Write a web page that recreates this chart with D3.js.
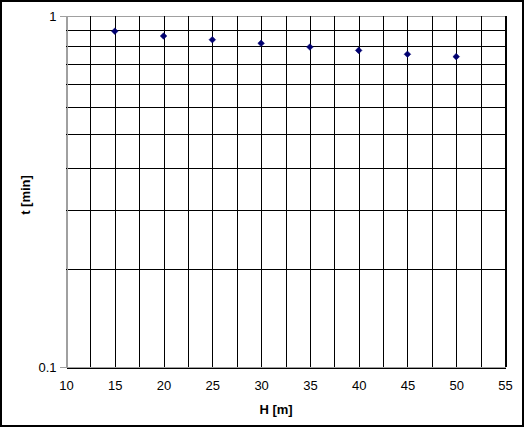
<!DOCTYPE html>
<html>
<head>
<meta charset="utf-8">
<script src="https://cdn.jsdelivr.net/npm/d3@7"></script>
<style>
  html, body { margin: 0; padding: 0; background: #fff; }
  svg { display: block; }
  text { font-family: "Liberation Sans", Arial, sans-serif; }
</style>
</head>
<body>
<script>
// ---- data ----
const heights = [15, 20, 25, 30, 35, 40, 45, 50];
const times = [0.905, 0.877, 0.856, 0.836, 0.816, 0.798, 0.778, 0.766];
const xTicks = [10, 15, 20, 25, 30, 35, 40, 45, 50, 55];
const xGrid = [12.5, 15, 17.5, 20, 22.5, 25, 27.5, 30, 32.5, 35, 37.5, 40, 42.5, 45, 47.5, 50, 52.5, 55];
const yTicks = [0.1, 1];
const yGrid = [0.19, 0.28, 0.37, 0.46, 0.55, 0.64, 0.73, 0.82, 0.91];
const xTitle = "H [m]";
const yTitle = "t [min]";

(function () {
const W = 524, H = 427;
const pL = 66, pR = 505, pT = 16, pB = 367;

const svg = d3.select("body").append("svg").attr("width", W).attr("height", H);

// outer border
svg.append("rect").attr("x", 1).attr("y", 1).attr("width", W - 2).attr("height", H - 2)
  .attr("fill", "#fff").attr("stroke", "#000").attr("stroke-width", 2);

const x = d3.scaleLinear().domain([10, 55]).range([pL, pR]);
const y = d3.scaleLog().domain([0.1, 1]).range([pB, pT]);

const g = svg.append("g").attr("shape-rendering", "crispEdges");

// plot area border (gray)
g.append("rect").attr("x", pL + 0.5).attr("y", pT + 0.5).attr("width", pR - pL).attr("height", pB - pT)
  .attr("fill", "#fff").attr("stroke", "#a0a0a0").attr("stroke-width", 1);

// horizontal gridlines
g.selectAll("line.hg").data(yGrid).join("line").attr("class", "hg")
  .attr("x1", pL).attr("x2", pR)
  .attr("y1", d => Math.round(y(d)) + 0.5).attr("y2", d => Math.round(y(d)) + 0.5)
  .attr("stroke", "#000");

// vertical gridlines
g.selectAll("line.vg").data(xGrid).join("line").attr("class", "vg")
  .attr("x1", d => Math.round(x(d)) + 0.5).attr("x2", d => Math.round(x(d)) + 0.5)
  .attr("y1", pT).attr("y2", pB)
  .attr("stroke", "#000")
  .attr("stroke-width", d => d === 55 ? 2 : 1);

// x axis (black line at bottom)
const xAxis = d3.axisBottom(x).tickValues(xTicks).tickSize(0).tickPadding(13).tickFormat(d3.format("d"));
const xa = svg.append("g").attr("transform", `translate(0,${pB + 0.5})`).call(xAxis);
xa.select(".domain").attr("stroke", "#000").attr("shape-rendering", "crispEdges");
xa.selectAll("text").attr("font-size", 13).attr("fill", "#000")
  .attr("font-family", "'Liberation Sans', Arial, sans-serif");

// y axis (gray line with ticks)
const yAxis = d3.axisLeft(y).tickValues(yTicks).tickSize(7).tickPadding(3).tickFormat(d => d3.format("~g")(d));
const ya = svg.append("g").attr("transform", `translate(${pL + 0.5},0)`).call(yAxis);
ya.select(".domain").attr("stroke", "#a0a0a0").attr("shape-rendering", "crispEdges");
ya.selectAll(".tick line").attr("stroke", "#a0a0a0").attr("shape-rendering", "crispEdges");
ya.selectAll("text").attr("font-size", 13).attr("fill", "#000")
  .attr("font-family", "'Liberation Sans', Arial, sans-serif");

// points (diamonds)
const diamond = d3.symbol().type(d3.symbolSquare).size(22);
svg.selectAll("path.pt").data(heights.map((h, i) => [h, times[i]])).join("path")
  .attr("class", "pt")
  .attr("d", diamond)
  .attr("transform", d => `translate(${x(d[0])},${y(d[1])}) rotate(45)`)
  .attr("fill", "#000070").attr("stroke", "#000070").attr("stroke-width", 0.5);

// axis titles
svg.append("text").attr("x", 276).attr("y", 414).attr("text-anchor", "middle")
  .attr("font-size", 13).attr("font-weight", "bold").text(xTitle);
svg.append("text").attr("transform", "translate(30,195) rotate(-90)").attr("text-anchor", "middle")
  .attr("font-size", 13).attr("font-weight", "bold").text(yTitle);
})();
</script>
</body>
</html>
